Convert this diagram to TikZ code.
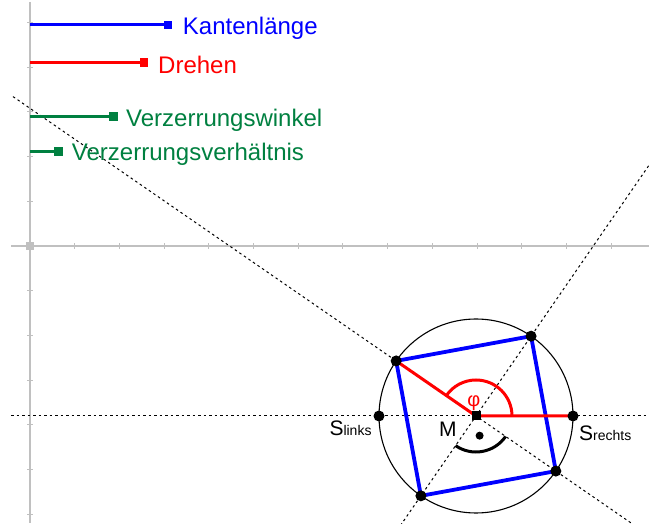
\documentclass[tikz,border=0pt]{standalone}
\usepackage{fontspec}
\setmainfont{Liberation Sans}
\usetikzlibrary{calc}
\definecolor{ggblue}{RGB}{0,0,255}
\definecolor{ggred}{RGB}{255,0,0}
\definecolor{gggreen}{RGB}{0,128,64}
\definecolor{axisgray}{RGB}{192,192,192}
\begin{document}
\begin{tikzpicture}[x=1pt,y=1pt,
  axisline/.style={draw=axisgray,line width=1.3pt},
  tickline/.style={draw=axisgray,line width=1pt},
  aux/.style={draw=black,line width=1pt,dash pattern=on 2.5pt off 3pt},
  pt/.style={circle,fill=black,inner sep=0pt,minimum size=11pt},
  knob/.style={rectangle,inner sep=0pt,minimum size=8.5pt},
  slider/.style={line width=3pt},
  lbl/.style={inner sep=0pt,anchor=base west,font=\fontsize{24}{28}\selectfont}]
\useasboundingbox (0,0) rectangle (649,523);
% axes
\coordinate (xs) at (11,277); \coordinate (xe) at (649,277);
\coordinate (ys) at (30,521); \coordinate (ye) at (30,0);
\draw[axisline] (xs) -- (xe);
\draw[axisline] (ys) -- (ye);
\foreach \k in {1,...,13} \draw[tickline] ({30+44.7*\k},274) -- ++(0,6);
\foreach \k in {1,...,5} \draw[tickline] (27,{277+44.7*\k}) -- ++(6,0);
\foreach \k in {1,...,6} \draw[tickline] (27,{277-44.7*\k}) -- ++(6,0);
\node[fill=axisgray,minimum size=8pt,inner sep=0pt] (O) at (30,277) {};
% construction
\coordinate (Mc) at (476,107);
\coordinate (pA) at ($(Mc)+(145.4:97)$);
\coordinate (pB) at ($(Mc)+(55.4:97)$);
\coordinate (pC) at ($(Mc)+(-34.6:97)$);
\coordinate (pD) at ($(Mc)+(235.4:97)$);
\coordinate (pSL) at ($(Mc)+(180:97)$);
\coordinate (pSR) at ($(Mc)+(0:97)$);
\coordinate (acA) at ($(Mc)+(145.4:700)$);
\coordinate (acB) at ($(Mc)+(-34.6:700)$);
\coordinate (bdA) at ($(Mc)+(55.4:700)$);
\coordinate (bdB) at ($(Mc)+(235.4:700)$);
\coordinate (hA) at (11,107); \coordinate (hB) at (649,107);
\begin{scope}
\clip (11,0) rectangle (649,523);
\draw[aux] (acA) -- (acB);
\draw[aux] (bdA) -- (bdB);
\draw[aux] (hA) -- (hB);
\end{scope}
\draw[black,line width=1.1pt] (Mc) circle (97);
\draw[ggblue,line width=3.8pt,line join=round] (pA) -- (pB) -- (pC) -- (pD) -- cycle;
\draw[ggred,line width=3pt] (pA) -- (Mc) -- (pSR);
\draw[ggred,line width=3pt] ($(Mc)+(36,0)$) arc[start angle=0,end angle=145.4,radius=36];
\draw[black,line width=3pt] ($(Mc)+(-124.6:36)$) arc[start angle=-124.6,end angle=-34.6,radius=36];
\node[circle,fill=black,inner sep=0pt,minimum size=8pt] (rdot) at ($(Mc)+(-79.6:20)$) {};
\node[pt] (A) at (pA) {};
\node[pt] (B) at (pB) {};
\node[pt] (C) at (pC) {};
\node[pt] (D) at (pD) {};
\node[pt] (SL) at (pSL) {};
\node[pt] (SR) at (pSR) {};
\node[fill=black,minimum size=9pt,inner sep=0pt] (M) at (Mc) {};
% labels
\node[inner sep=0pt,anchor=base west,font=\fontsize{21}{24}\selectfont] (Mlbl) at (439,86.3) {M};
\node[inner sep=0pt,anchor=base west,font=\fontsize{21}{24}\selectfont] (SLlbl) at (329.3,87) {S{\fontsize{14}{16}\selectfont links}};
\node[inner sep=0pt,anchor=base west,font=\fontsize{21}{24}\selectfont] (SRlbl) at (579,82.3) {S{\fontsize{14}{16}\selectfont rechts}};
\node[inner sep=0pt,text=ggred,font=\fontsize{20}{22}\selectfont] (phi) at (473.8,120) {φ};
% sliders
\coordinate (s1) at (30,498); \coordinate (k1c) at (168,498);
\coordinate (s2) at (30,460.5); \coordinate (k2c) at (144,460.5);
\coordinate (s3) at (30,406.3); \coordinate (k3c) at (113.3,406.3);
\coordinate (s4) at (30,371.3); \coordinate (k4c) at (58.3,371.3);
\draw[slider,ggblue] (s1) -- (k1c);
\draw[slider,ggred] (s2) -- (k2c);
\draw[slider,gggreen] (s3) -- (k3c);
\draw[slider,gggreen] (s4) -- (k4c);
\node[knob,fill=ggblue] (k1) at (k1c) {};
\node[knob,fill=ggred] (k2) at (k2c) {};
\node[knob,fill=gggreen] (k3) at (k3c) {};
\node[knob,fill=gggreen] (k4) at (k4c) {};
\node[lbl,text=ggblue] (t1) at (182.7,488) {Kantenlänge};
\node[lbl,text=ggred] (t2) at (158,449) {Drehen};
\node[lbl,text=gggreen] (t3) at (126,396.3) {Verzerrungswinkel};
\node[lbl,text=gggreen] (t4) at (71.7,362) {Verzerrungsverhältnis};
\end{tikzpicture}
\end{document}
